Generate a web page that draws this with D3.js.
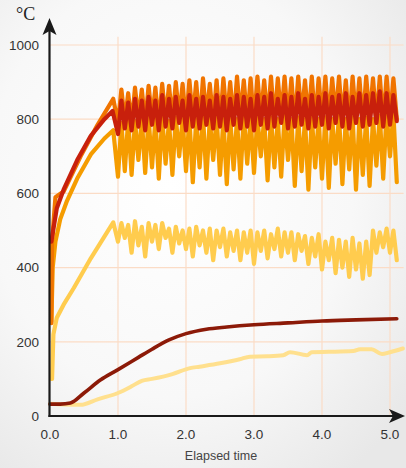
<!DOCTYPE html>
<html><head><meta charset="utf-8">
<script src="https://cdn.jsdelivr.net/npm/d3@7"></script>
<style>
html,body{margin:0;padding:0;overflow:hidden;background:#fff;}
svg{display:block;}
</style></head>
<body>
<svg id="chart" width="406" height="468"></svg>
<script>
// ---------- data ----------
const xTicks = [0, 1, 2, 3, 4, 5];
const xTickLabels = ["0.0", "1.0", "2.0", "3.0", "4.0", "5.0"];
const yTicks = [0, 200, 400, 600, 800, 1000];
const yTickLabels = ["0", "200", "400", "600", "800", "1000"];
const xTitle = "Elapsed time";
const yUnit = "°C";

// sample times for the oscillating phase (t >= 1.0)
const oscTimes = [
 1.00,1.05,1.10,1.15,1.20,1.25,1.30,1.35,1.40,1.45,
 1.50,1.55,1.60,1.65,1.70,1.75,1.80,1.85,1.90,1.95,
 2.00,2.05,2.10,2.15,2.20,2.25,2.30,2.35,2.40,2.45,
 2.50,2.55,2.60,2.65,2.70,2.75,2.80,2.85,2.90,2.95,
 3.00,3.05,3.10,3.15,3.20,3.25,3.30,3.35,3.40,3.45,
 3.50,3.55,3.60,3.65,3.70,3.75,3.80,3.85,3.90,3.95,
 4.00,4.05,4.10,4.15,4.20,4.25,4.30,4.35,4.40,4.45,
 4.50,4.55,4.60,4.65,4.70,4.75,4.80,4.85,4.90,4.95,
 5.00,5.05,5.10];

// rising phase (t, value) for each series
const orangeRise = [[0.02,250],[0.03,470],[0.08,590],[0.2,605],[0.45,700],[0.7,785],[0.93,855]];
const redRise    = [[0.02,470],[0.1,560],[0.2,610],[0.4,690],[0.6,755],[0.8,800],[0.92,822]];
const amberRise  = [[0.02,255],[0.04,400],[0.08,470],[0.15,530],[0.25,580],[0.4,640],[0.6,705],[0.8,748],[0.93,770]];
const yellowRise = [[0.02,100],[0.03,100],[0.05,220],[0.1,265],[0.2,300],[0.35,345],[0.6,425],[0.93,522]];

// oscillating phase values, one per oscTimes entry
const orangeOsc = [
 790,880,795,870,785,885,800,880,790,890,
 800,885,785,895,800,890,795,900,805,895,
 790,905,800,900,785,910,805,895,795,905,
 785,910,800,900,790,915,805,905,795,910,
 785,915,805,905,795,915,790,910,805,915,
 795,910,785,915,805,905,795,915,790,910,
 800,915,790,910,805,915,795,905,785,915,
 800,910,790,915,805,910,795,915,790,915,
 800,910,800];
const redOsc = [
 760,850,775,845,770,855,780,850,770,860,
 785,850,770,865,780,855,775,860,790,850,
 770,865,780,855,775,860,785,850,775,865,
 780,860,770,855,785,865,775,860,780,855,
 770,865,785,860,775,870,780,855,790,865,
 775,860,780,870,785,855,775,865,780,860,
 785,870,775,860,790,865,780,870,775,860,
 790,870,780,865,785,870,790,875,780,870,
 785,865,795];
const amberOsc = [
 645,790,660,800,650,795,690,800,655,805,
 670,800,640,805,680,795,650,805,700,800,
 660,805,630,800,670,810,640,800,690,805,
 650,800,625,805,665,800,640,810,680,800,
 655,805,700,800,635,805,670,800,645,810,
 690,800,620,805,660,800,610,805,670,800,
 640,805,615,800,680,810,625,800,665,805,
 610,800,650,805,620,800,675,810,640,815,
 700,815,630];
const yellowOsc = [
 470,520,480,515,440,525,460,510,430,520,
 470,515,450,520,480,505,440,510,465,500,
 450,505,430,510,460,500,440,505,420,500,
 455,505,430,495,445,500,420,495,440,500,
 410,495,445,500,425,490,450,505,430,495,
 440,495,420,490,445,485,410,480,430,490,
 395,470,420,480,385,475,400,470,375,480,
 395,465,370,470,380,500,440,495,455,505,
 440,500,420];

// smooth series
const brownT = [0.0, 0.15, 0.3, 0.5, 0.74, 1.0, 1.3, 1.5, 1.75, 2.0, 2.3, 2.6, 3.0, 3.5, 4.0, 4.5, 5.1];
const brownV = [32, 32, 35, 62, 97, 125, 158, 180, 205, 222, 234, 240, 246, 251, 256, 259, 262];
const paleT = [0.0, 0.2, 0.45, 0.7, 1.0, 1.2, 1.35, 1.5, 1.8, 2.06, 2.2, 2.5, 2.79, 2.94, 3.2, 3.43, 3.53, 3.78, 3.85, 4.1, 4.46, 4.56, 4.73, 4.88, 5.0, 5.19];
const paleV = [33, 31, 30, 45, 62, 80, 95, 100, 113, 129, 133, 142, 153, 160, 161, 164, 172, 164, 172, 173, 175, 180, 180, 167, 172, 182];

// ---------- layout ----------
const svg = d3.select("#chart");
const W = 406, H = 468;
const x = d3.scaleLinear().domain([0, 5.2]).range([50, 403.6]);
const y = d3.scaleLinear().domain([0, 1000]).range([416, 45]);

// background
const defs = svg.append("defs");
const rg = defs.append("radialGradient").attr("id", "bg")
  .attr("cx", "42%").attr("cy", "40%").attr("r", "75%");
rg.append("stop").attr("offset", "0%").attr("stop-color", "#ffffff");
rg.append("stop").attr("offset", "60%").attr("stop-color", "#f8f8f8");
rg.append("stop").attr("offset", "100%").attr("stop-color", "#e8e8e8");
svg.append("rect").attr("width", W).attr("height", H).attr("fill", "url(#bg)");

// grid
const grid = svg.append("g").attr("stroke", "#fbdcc6").attr("stroke-width", 1.2);
grid.selectAll("line.h").data(yTicks.filter(d => d > 0)).join("line")
  .attr("x1", x(0)).attr("x2", x(5.2)).attr("y1", d => y(d)).attr("y2", d => y(d));
grid.selectAll("line.v").data(xTicks.filter(d => d > 0)).join("line")
  .attr("x1", d => x(d)).attr("x2", d => x(d)).attr("y1", y(1022)).attr("y2", y(0));

// build series
function combine(rise, osc) {
  return rise.concat(oscTimes.map((t, i) => [t, osc[i]]));
}
const line = d3.line().x(d => x(d[0])).y(d => y(d[1]));
const smooth = d3.line().x(d => x(d[0])).y(d => y(d[1])).curve(d3.curveMonotoneX);

const series = [
  {pts: combine(yellowRise, yellowOsc), color: "#ffcc4e", w: 4.2, gen: line},
  {pts: combine(amberRise, amberOsc), color: "#f59c00", w: 4.2, gen: line},
  {pts: combine(orangeRise, orangeOsc), color: "#f07400", w: 4.2, gen: line},
  {pts: combine(redRise, redOsc), color: "#c8200c", w: 4.2, gen: line},
  {pts: paleT.map((t, i) => [t, paleV[i]]), color: "#ffe08e", w: 4, gen: smooth},
  {pts: brownT.map((t, i) => [t, brownV[i]]), color: "#8c1a08", w: 3.6, gen: smooth}
];
svg.append("g").selectAll("path").data(series).join("path")
  .attr("d", d => d.gen(d.pts))
  .attr("fill", "none")
  .attr("stroke", d => d.color)
  .attr("stroke-width", d => d.w)
  .attr("stroke-linejoin", "round")
  .attr("stroke-linecap", "round");

// axes
const ax = svg.append("g");
ax.append("line").attr("x1", x(0) - 0.5).attr("x2", x(0) - 0.5).attr("y1", y(0) + 1).attr("y2", 30)
  .attr("stroke", "#1a1a1a").attr("stroke-width", 2.2);
ax.append("line").attr("x1", x(0) - 1.5).attr("x2", 395).attr("y1", y(0)).attr("y2", y(0))
  .attr("stroke", "#1a1a1a").attr("stroke-width", 2.2);
// arrowheads
ax.append("path").attr("d", `M${x(0) - 0.5},18 L${x(0) + 6.5},35 L${x(0) - 0.5},31 L${x(0) - 7.5},35 Z`).attr("fill", "#1a1a1a");
ax.append("path").attr("d", `M405,${y(0)} L389,${y(0) - 7} L393,${y(0)} L389,${y(0) + 7} Z`).attr("fill", "#1a1a1a");

// tick labels
const font = "'Liberation Sans', Arial, Helvetica, sans-serif";
svg.append("g").selectAll("text").data(yTicks).join("text")
  .attr("x", 39).attr("y", d => y(d)).attr("dy", "0.35em")
  .attr("text-anchor", "end").attr("font-family", font).attr("font-size", 13.5).attr("fill", "#333")
  .text((d, i) => yTickLabels[i]);
svg.append("g").selectAll("text").data(xTicks).join("text")
  .attr("x", d => x(d)).attr("y", 439)
  .attr("text-anchor", "middle").attr("font-family", font).attr("font-size", 13.5).attr("fill", "#333")
  .text((d, i) => xTickLabels[i]);
svg.append("text").attr("x", 221).attr("y", 460).attr("text-anchor", "middle")
  .attr("font-family", font).attr("font-size", 12.5).attr("fill", "#444").text(xTitle);
svg.append("text").attr("x", 16).attr("y", 20)
  .attr("font-family", "'Liberation Serif', 'DejaVu Serif', serif").attr("font-size", 18).attr("fill", "#222").text(yUnit);
</script>
</body></html>
